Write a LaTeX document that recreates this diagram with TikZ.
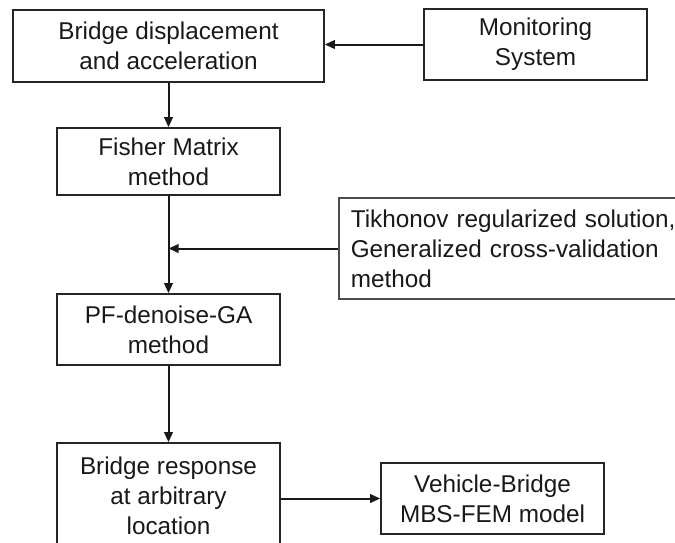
\documentclass[tikz,border=0pt]{standalone}
\usepackage{fontspec}
\setmainfont{Liberation Sans}
\usetikzlibrary{arrows.meta}
\tikzset{
  flowbox/.style={draw=black!85, line width=1.6pt, fill=white, align=center,
    inner sep=0pt, font=\fontsize{24.3}{30}\selectfont, text=black!90},
  flow/.style={draw=black!90, line width=2pt, -{Triangle[length=10pt,width=8.5pt]}},
}
\begin{document}
\begin{tikzpicture}[x=1pt, y=-1pt]
  \clip (0,0) rectangle (675,542);
  \fill[white] (0,0) rectangle (675,542);

  \node[flowbox, minimum width=311pt, minimum height=72pt] (disp) at (168.5,46)
    {Bridge displacement\\and acceleration};
  \node[flowbox, minimum width=223pt, minimum height=71pt] (mon) at (535.5,44.5)
    {Monitoring\\System};
  \node[flowbox, minimum width=223pt, minimum height=67pt] (fisher) at (168.5,161.5)
    {Fisher Matrix\\method};
  \node[flowbox, anchor=west, align=left, text width=345pt, inner xsep=12pt,
        minimum height=101pt, draw=black!70] (tikh) at (338,248.5)
    {Tikhonov regularized solution,\\Generalized cross-validation\\method};
  \node[flowbox, minimum width=223pt, minimum height=71pt] (pf) at (168.5,329.5)
    {PF-denoise-GA\\method};
  \node[flowbox, minimum width=223pt, minimum height=106pt] (resp) at (168.5,496)
    {Bridge response\\at arbitrary\\location};
  \node[flowbox, minimum width=223pt, minimum height=71pt] (veh) at (492.5,498.5)
    {Vehicle-Bridge\\MBS-FEM model};

  \coordinate (join) at (fisher.south |- tikh.west);

  \draw[flow] (mon.west) -- (mon.west -| disp.east);
  \draw[flow] (disp.south) -- (fisher.north);
  \draw[flow] (fisher.south) -- (pf.north);
  \draw[flow] (tikh.west) -- (join);
  \draw[flow] (pf.south) -- (resp.north);
  \draw[flow] (veh.west -| resp.east) -- (veh.west);
\end{tikzpicture}
\end{document}
